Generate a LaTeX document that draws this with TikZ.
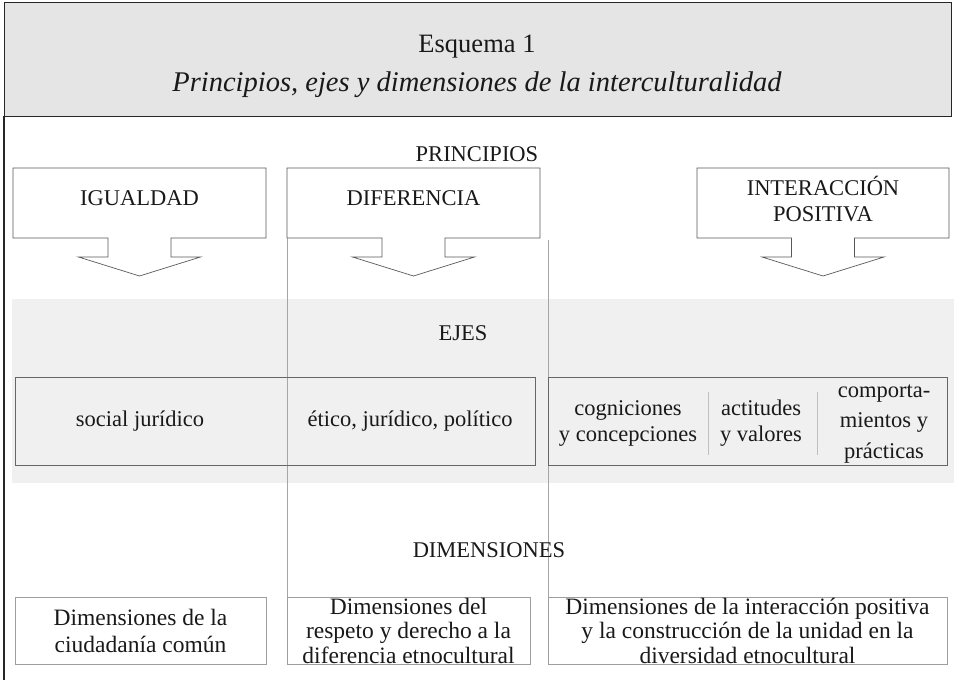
\documentclass[tikz,border=0pt]{standalone}
\usepackage{fontspec}
\setmainfont{Liberation Serif}

\begin{document}
\begin{tikzpicture}[x=1pt,y=-1pt,
	txt/.style={inner sep=0pt,align=center,text=black!90,font=\fontsize{22.5}{26}\selectfont},
	cab/.style={inner sep=0pt,align=center,text=black!90,font=\fontsize{26.5}{30}\selectfont},
	principio/.style={draw=black!65,fill=white,line width=0.7pt},
	ejebox/.style={draw=black!60,line width=0.8pt,inner sep=0pt},
	dimbox/.style={draw=black!38,line width=0.7pt,inner sep=0pt,align=center,text=black!90,font=\fontsize{23.5}{24.5}\selectfont},
	guia/.style={draw=black!35,line width=0.6pt},
	sep/.style={draw=black!25,line width=0.6pt}]
			\useasboundingbox (0,0) rectangle (954,680);
			\draw[draw=black!85,fill=black!10,line width=0.9pt] (4,2) rectangle (951,116);
			\draw[draw=black!85,line width=1.2pt] (4,116) -- (4,680);
			\node[cab] (esquema) at (477,47) {Esquema 1};
			\node[cab,font=\fontsize{28.5}{30}\selectfont\itshape] (titulo) at (477,85) {Principios, ejes y dimensiones de la interculturalidad};

			\node[txt] (principios) at (477,154) {PRINCIPIOS};

			\fill[black!6] (12,299) rectangle (954,483);

			\coordinate (g1a) at (287,168);
			\coordinate (g1b) at (287,597);
			\coordinate (g2a) at (548,240);
			\coordinate (g2b) at (548,597);
			\draw[guia] (g1a) -- (g1b);
			\draw[guia] (g2a) -- (g2b);

			\foreach \l/\r in {13/266,287/540,697/949}{
				\pgfmathsetmacro{\cx}{(\l+\r)/2}
				\draw[principio] (\l,168) -- (\r,168) -- (\r,238) -- (\cx+31.5,238) -- (\cx+31.5,257) -- (\cx+61,257)
					-- (\cx,276) -- (\cx-61,257) -- (\cx-31.5,257) -- (\cx-31.5,238) -- (\l,238) -- cycle;
			}
			\draw[guia] (287,238) -- (287,240);
			\node[txt] (igualdad) at (139.5,198) {IGUALDAD};
			\node[txt] (diferencia) at (413.5,198) {DIFERENCIA};
			\node[txt] (interaccion) at (823,199) {INTERACCIÓN\\POSITIVA};

			\node[txt] (ejes) at (463,333) {EJES};
			\node[ejebox,minimum width=520pt,minimum height=88pt] (ejeizq) at (275,421) {};
			\node[ejebox,minimum width=399pt,minimum height=88pt] (ejeder) at (747.5,421) {};
			\node[txt] (social) at (140,421) {social jurídico};
			\node[txt] (etico) at (410,421) {ético, jurídico, político};
			\node[txt] (cogniciones) at (628,423) {cogniciones\\y concepciones};
			\node[txt] (actitudes) at (761,423) {actitudes\\y valores};
			\node[txt,font=\fontsize{22.5}{30.5}\selectfont] (comportamientos) at (884,424) {comporta-\\mientos y\\prácticas};
			\coordinate (s1a) at (708,392);
			\coordinate (s1b) at (708,455);
			\coordinate (s2a) at (817,392);
			\coordinate (s2b) at (817,455);
			\draw[sep] (s1a) -- (s1b);
			\draw[sep] (s2a) -- (s2b);

			\node[txt] (dimensiones) at (489,550) {DIMENSIONES};
			\node[dimbox,minimum width=251pt,minimum height=67pt,font=\fontsize{23.5}{27}\selectfont] (ciudadania) at (140.5,630.5) {Dimensiones de la\\ciudadanía común};
			\node[dimbox,minimum width=243pt,minimum height=67pt] (respeto) at (408.5,630.5) {Dimensiones del\\respeto y derecho a la\\diferencia etnocultural};
			\node[dimbox,minimum width=399pt,minimum height=67pt] (unidad) at (747.5,630.5) {Dimensiones de la interacción positiva\\y la construcción de la unidad en la\\diversidad etnocultural};
\end{tikzpicture}
\end{document}
